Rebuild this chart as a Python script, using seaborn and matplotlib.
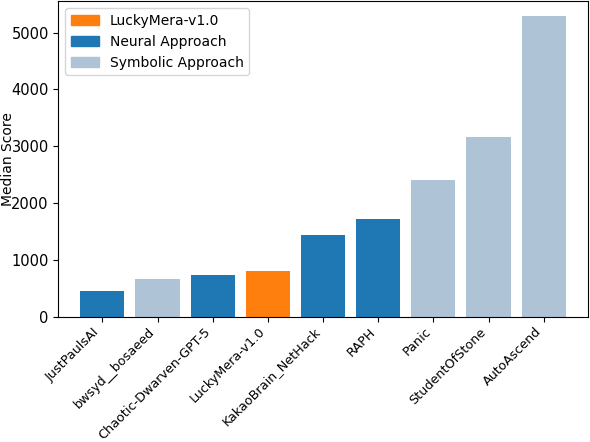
import matplotlib
matplotlib.use("Agg")
import matplotlib.pyplot as plt
from matplotlib.patches import Patch
import pandas as pd
import seaborn as sns

# Median scores per agent
agents = ["JustPaulsAI", "bwsyd__bosaeed", "Chaotic-Dwarven-GPT-5", "LuckyMera-v1.0",
          "KakaoBrain_NetHack", "RAPH", "Panic", "StudentOfStone", "AutoAscend"]
scores = [461, 672, 742, 812, 1444, 1725, 2409, 3163, 5286]
groups = ["Neural Approach", "Symbolic Approach", "Neural Approach", "LuckyMera-v1.0",
          "Neural Approach", "Neural Approach", "Symbolic Approach", "Symbolic Approach",
          "Symbolic Approach"]

palette = {
    "LuckyMera-v1.0": "#ff7f0e",
    "Neural Approach": "#1f77b4",
    "Symbolic Approach": "#aec3d5",
}

df = pd.DataFrame({"agent": agents, "score": scores, "group": groups})

fig, ax = plt.subplots(figsize=(5.9, 4.42), dpi=100)
sns.barplot(data=df, x="agent", y="score", hue="group", palette=palette,
            dodge=False, width=0.8, saturation=1, legend=False, ax=ax)

# matplotlib-style margins instead of seaborn's tight categorical limits
n = len(agents)
ax.set_xlim(-0.4 - 0.044 * n, n - 0.6 + 0.044 * n)

ax.set_xlabel("")
ax.set_ylabel("Median Score", fontsize=10)
ax.yaxis.set_label_coords(-0.082, 0.5)
ax.tick_params(axis="y", labelsize=10.5)
ax.tick_params(axis="x", labelsize=9.2, pad=2.5)
plt.setp(ax.get_xticklabels(), rotation=45, ha="right")

handles = [Patch(color=palette[k], label=k) for k in palette]
ax.legend(handles=handles, loc="upper left")

fig.subplots_adjust(left=0.099, right=0.996, top=0.997, bottom=0.283)
fig.savefig("out.png")
